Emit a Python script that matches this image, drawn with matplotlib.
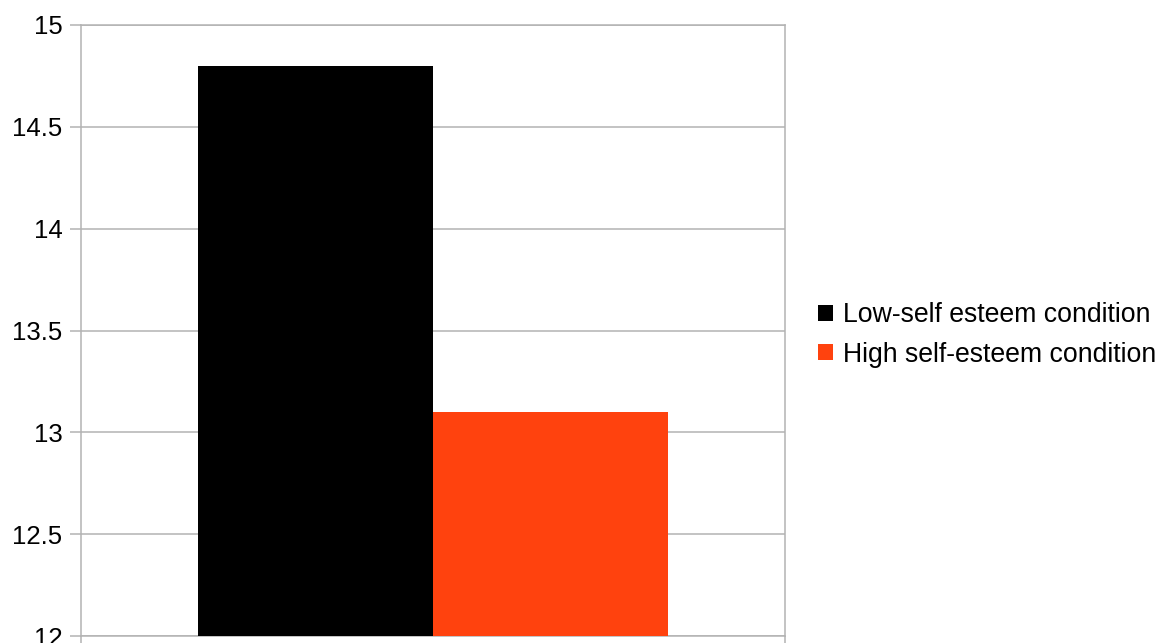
import matplotlib.pyplot as plt
from matplotlib.patches import Patch

plt.rcParams['font.family'] = ['Liberation Sans', 'DejaVu Sans']

series = ['Low-self esteem condition', 'High self-esteem condition']
values = [14.8, 13.1]
colors = ['#000000', '#ff420e']
yticks = [12, 12.5, 13, 13.5, 14, 14.5, 15]
ylabels = ['12', '12.5', '13', '13.5', '14', '14.5', '15']

grid_col = '#b3b3b3'

fig = plt.figure(figsize=(11.68, 6.43), dpi=100)
ax = fig.add_axes([81 / 1168, 1 - 636 / 643, 704 / 1168, 611 / 643])

w = 1 / 3
offsets = [-w / 2, w / 2]
for off, v, c in zip(offsets, values, colors):
    ax.bar(off, v - 12, width=w, bottom=12, color=c, zorder=3)

ax.set_xlim(-0.5, 0.5)
ax.set_ylim(12, 15)
ax.set_yticks(yticks)
ax.set_yticklabels(ylabels, fontsize=18.5)
ax.set_xticks([-0.5, 0.5])
ax.set_xticklabels([])

ax.yaxis.grid(True, color=grid_col, linewidth=1.1, zorder=0)
for s in ax.spines.values():
    s.set_color(grid_col)
    s.set_linewidth(1.1)
ax.tick_params(axis='y', length=8, width=1.1, color=grid_col, pad=5.5)
ax.tick_params(axis='x', length=6, width=1.1, color=grid_col)
for lab in ax.get_yticklabels():
    lab.set_clip_on(False)

handles = [Patch(facecolor=c, edgecolor='none') for c in colors]
fig.legend(handles, series, loc='center left', bbox_to_anchor=(818 / 1168, 1 - 335 / 643),
           frameon=False, fontsize=19.2, borderpad=0, borderaxespad=0,
           handlelength=0.57, handleheight=0.57, handletextpad=0.38, labelspacing=0.5)

fig.savefig('out.png', dpi=100)
